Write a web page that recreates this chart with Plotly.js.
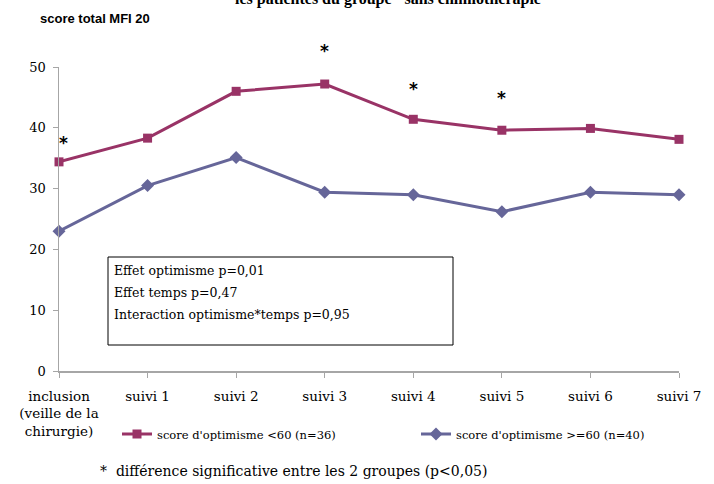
<!DOCTYPE html>
<html>
<head>
<meta charset="utf-8">
<script src="https://cdn.plot.ly/plotly-3.0.1.min.js"></script>
<style>html,body{margin:0;padding:0;background:#fff;}#chart{width:714px;height:484px;}</style>
</head>
<body>
<div id="chart"></div>
<script>
const categories = ['inclusion<br>(veille de la<br>chirurgie)', 'suivi 1', 'suivi 2', 'suivi 3', 'suivi 4', 'suivi 5', 'suivi 6', 'suivi 7'];
const lowOptimism = [34.4, 38.3, 46.0, 47.2, 41.4, 39.6, 39.9, 38.1];
const highOptimism = [23.0, 30.5, 35.1, 29.4, 29.0, 26.2, 29.4, 29.0];
const lowName = "score d'optimisme <60 (n=36)";
const highName = "score d'optimisme >=60 (n=40)";
const starIndex = [0, 3, 4, 5];
const starY = [37.5, 52.6, 46.4, 44.9];
const yTicks = [0, 10, 20, 30, 40, 50];
const yMax = 50;
const statLines = ['Effet optimisme p=0,01', 'Effet temps p=0,47', 'Interaction optimisme*temps p=0,95'];

const L = 59, R = 679, T = 67, B = 371, W = 714, H = 484;
const px = x => (x - L) / (R - L);
const py = y => (B - y) / (B - T);

const red = '#993366', blue = '#666699';
const serif = 'DejaVu Serif';
const sans = 'Liberation Sans';

const traces = [
  {x: categories, y: lowOptimism, name: lowName, type: 'scatter', mode: 'lines+markers', legend: 'legend',
   line: {color: red, width: 3}, marker: {symbol: 'square', size: 9, color: red}, cliponaxis: false},
  {x: categories, y: highOptimism, name: highName, type: 'scatter', mode: 'lines+markers', legend: 'legend2',
   line: {color: blue, width: 3}, marker: {symbol: 'diamond', size: 10, color: blue}, cliponaxis: false}
];

const annotations = starIndex.map((i, k) => ({
  x: i, y: starY[k] / yMax, xref: 'x', yref: 'paper', text: '<b>*</b>', showarrow: false,
  xshift: i === 0 ? 4 : 0,
  font: {family: 'DejaVu Sans', size: 17, color: '#000'}, xanchor: 'center', yanchor: 'middle'
}));

annotations.push({
  xref: 'paper', yref: 'paper', x: px(392), y: py(-1), text: '<b>les patientes du groupe "sans chimiothérapie"</b>',
  showarrow: false, xanchor: 'center', yanchor: 'middle', font: {family: 'Liberation Serif', size: 16, color: '#000'}
});
annotations.push({
  xref: 'paper', yref: 'paper', x: px(38), y: py(18), text: '<b>score total MFI 20</b>',
  showarrow: false, xanchor: 'left', yanchor: 'middle', font: {family: sans, size: 13, color: '#000'}
});
statLines.forEach((t, k) => annotations.push({
  xref: 'paper', yref: 'paper', x: px(112), y: py(270 + 22 * k), text: t,
  showarrow: false, xanchor: 'left', yanchor: 'middle', font: {family: serif, size: 12.5, color: '#000'}
}));
annotations.push({
  xref: 'paper', yref: 'paper', x: px(98), y: py(471), text: '*  différence significative entre les 2 groupes (p<0,05)',
  showarrow: false, xanchor: 'left', yanchor: 'middle', font: {family: serif, size: 14, color: '#000'}
});

const legendBase = {orientation: 'h', xanchor: 'left', yanchor: 'middle',
  font: {family: serif, size: 11.5, color: '#000'}, itemwidth: 30, bgcolor: 'rgba(0,0,0,0)', borderwidth: 0};

const layout = {
  width: W, height: H,
  margin: {l: L, r: W - R, t: T, b: H - B, pad: 0},
  paper_bgcolor: '#fff', plot_bgcolor: '#fff',
  showlegend: true,
  legend: Object.assign({}, legendBase, {x: px(117), y: py(434)}),
  legend2: Object.assign({}, legendBase, {x: px(416), y: py(434)}),
  xaxis: {type: 'category', range: [0, 7], showline: true, linecolor: '#a6a6a6', linewidth: 1.5,
    ticks: 'outside', ticklen: 5, tickcolor: '#a6a6a6', showgrid: false, zeroline: false,
    tickfont: {family: serif, size: 13.5, color: '#000'}, ticklabelstandoff: 7, fixedrange: true},
  yaxis: {range: [0, yMax], tickvals: yTicks, showline: true, linecolor: '#a6a6a6', linewidth: 1.5,
    ticks: 'outside', ticklen: 5, tickcolor: '#a6a6a6', showgrid: false, zeroline: false,
    tickfont: {family: serif, size: 13, color: '#000'}, ticklabelstandoff: 4},
  shapes: [{type: 'rect', xref: 'paper', yref: 'paper', x0: px(108), x1: px(453), y0: py(345), y1: py(257),
    line: {color: '#000', width: 1}, fillcolor: 'rgba(0,0,0,0)'}],
  annotations: annotations
};

Plotly.newPlot('chart', traces, layout, {displayModeBar: false, staticPlot: true});
</script>
</body>
</html>
